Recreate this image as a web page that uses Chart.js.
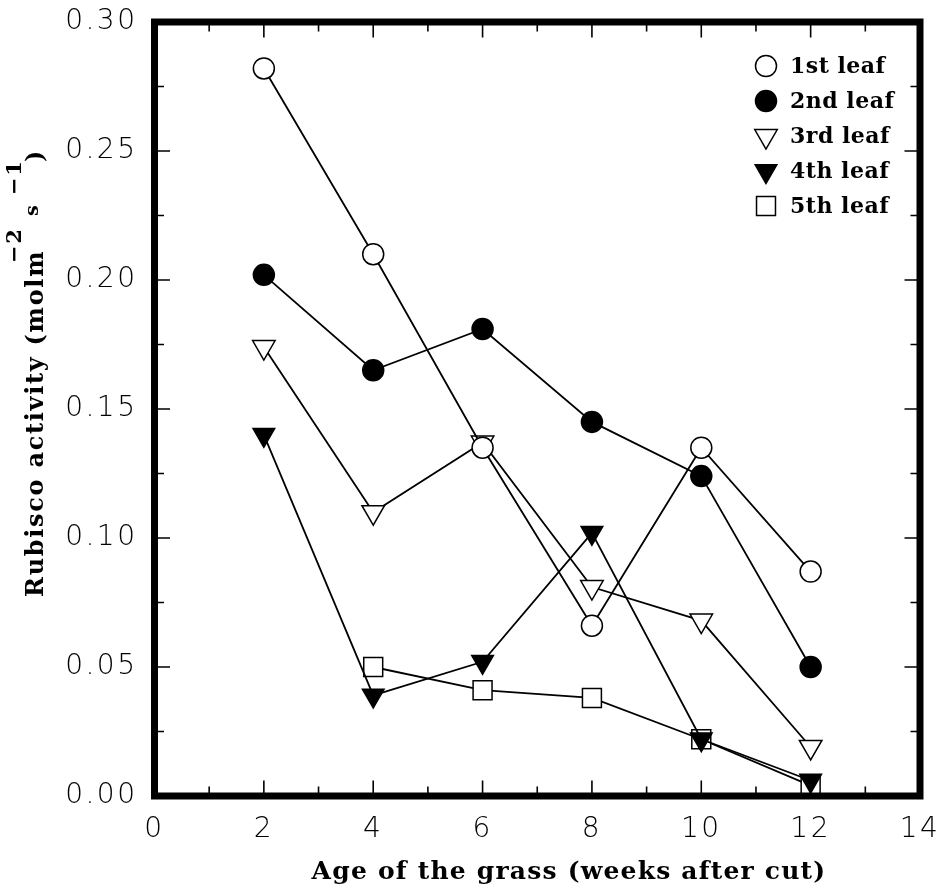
<!DOCTYPE html>
<html>
<head>
<meta charset="utf-8">
<title>Rubisco activity by leaf</title>
<script src="https://cdn.jsdelivr.net/npm/chart.js@4.4.1/dist/chart.umd.min.js"></script>
<style>
  html, body { margin: 0; padding: 0; background: #fff; }
  #wrap { width: 942px; height: 891px; }
</style>
</head>
<body>
<div id="wrap"><canvas id="chart" width="942" height="891"></canvas></div>
<script>
// weeks after cut
const weeks = [2, 4, 6, 8, 10, 12];

// Rubisco activity, mol m-2 s-1
const leaf1 = [0.282, 0.210, 0.135, 0.066, 0.135, 0.087];
const leaf2 = [0.202, 0.165, 0.181, 0.145, 0.124, 0.050];
const leaf3 = [0.174, 0.110, 0.137, 0.081, 0.068, 0.019];
const leaf4 = [0.140, 0.039, 0.052, 0.102, 0.022, 0.006];
const leaf5 = [null, 0.050, 0.041, 0.038, 0.022, 0.004];

const seriesNames = ['1st leaf', '2nd leaf', '3rd leaf', '4th leaf', '5th leaf'];
const seriesValues = [leaf1, leaf2, leaf3, leaf4, leaf5];

const X_MIN = 0, X_MAX = 14, X_STEP = 2;
const Y_MIN = 0, Y_MAX = 0.30, Y_STEP = 0.05;

const xTitle = 'Age of the grass (weeks after cut)';
// y title pieces: text, font size, raise above baseline, offset along the line
const yTitleParts = [
  { text: 'Rubisco activity (molm', size: 24, rise: 0, at: 0 },
  { text: '\u22122', size: 21, rise: 22, at: 334 },
  { text: 's', size: 19, rise: 5, at: 381 },
  { text: '\u22121', size: 21, rise: 22, at: 402 },
  { text: ')', size: 24, rise: 0, at: 435 },
];

// open / filled symbols, one per leaf
const MARKERS = [
  { pointStyle: 'circle',   fill: '#fff', radius: 10.5, rotation: 0 },
  { pointStyle: 'circle',   fill: '#000', radius: 10.5, rotation: 0 },
  { pointStyle: 'triangle', fill: '#fff', radius: 13,   rotation: 180 },
  { pointStyle: 'triangle', fill: '#000', radius: 12.5, rotation: 180 },
  { pointStyle: 'rect',     fill: '#fff', radius: 13.4, rotation: 0 },
];

const TICK_FONT = { family: '"DejaVu Sans", sans-serif', size: 28, weight: 200, lineHeight: 1.2 };
const TITLE_FAMILY = '"DejaVu Serif", serif';
const FRAME_WIDTH = 7;
const MAJOR_TICK = 15.5;
const MINOR_TICK = 9.5;

function toPoints(values) {
  return weeks.map((w, i) => ({ x: w, y: values[i] }));
}

const datasets = seriesValues.map((values, i) => {
  const m = MARKERS[i];
  return {
    label: seriesNames[i],
    data: toPoints(values),
    borderColor: '#000',
    borderWidth: 1.8,
    backgroundColor: m.fill,
    pointStyle: m.pointStyle,
    pointRotation: m.rotation,
    pointRadius: m.radius,
    pointHoverRadius: m.radius,
    pointBackgroundColor: m.fill,
    pointBorderColor: '#000',
    pointBorderWidth: 1.5,
    tension: 0,
    fill: false,
    clip: false,
  };
});

// wide tick digits
const spacedTicks = {
  id: 'spacedTicks',
  beforeDraw(chart) {
    chart.ctx.letterSpacing = '2.5px';
  }
};

// thick box, inward ticks, axis titles and the key
const frameAndLabels = {
  id: 'frameAndLabels',
  afterDraw(chart) {
    const { ctx, chartArea: a } = chart;
    const xs = chart.scales.x, ys = chart.scales.y;
    ctx.save();
    ctx.letterSpacing = '0px';
    ctx.strokeStyle = '#000';
    ctx.fillStyle = '#000';

    ctx.lineWidth = 1.6;
    ctx.beginPath();
    for (let v = X_MIN + 1; v < X_MAX; v++) {
      const px = xs.getPixelForValue(v);
      const len = v % X_STEP === 0 ? MAJOR_TICK : MINOR_TICK;
      ctx.moveTo(px, a.top); ctx.lineTo(px, a.top + len);
      ctx.moveTo(px, a.bottom); ctx.lineTo(px, a.bottom - len);
    }
    const half = Y_STEP / 2;
    const nY = Math.round((Y_MAX - Y_MIN) / half);
    for (let i = 1; i < nY; i++) {
      const py = ys.getPixelForValue(Y_MIN + i * half);
      const len = i % 2 === 0 ? MAJOR_TICK : MINOR_TICK;
      ctx.moveTo(a.left, py); ctx.lineTo(a.left + len, py);
      ctx.moveTo(a.right, py); ctx.lineTo(a.right - len, py);
    }
    ctx.stroke();

    ctx.lineWidth = FRAME_WIDTH;
    ctx.lineJoin = 'miter';
    ctx.strokeRect(a.left, a.top, a.right - a.left, a.bottom - a.top);

    // x title
    ctx.letterSpacing = '1.2px';
    ctx.font = `bold 25px ${TITLE_FAMILY}`;
    ctx.textAlign = 'center';
    ctx.textBaseline = 'alphabetic';
    ctx.fillText(xTitle, 569, 879);

    // y title with superscripts, reading upward
    ctx.letterSpacing = '1.7px';
    ctx.save();
    ctx.translate(43, 597);
    ctx.rotate(-Math.PI / 2);
    ctx.textAlign = 'left';
    yTitleParts.forEach(p => {
      ctx.font = `bold ${p.size}px ${TITLE_FAMILY}`;
      ctx.fillText(p.text, p.at, -p.rise);
    });
    ctx.restore();

    // key
    ctx.letterSpacing = '0.5px';
    const keyX = 766, textX = 790, keyTop = 66, keyStep = 35;
    ctx.textAlign = 'left';
    ctx.textBaseline = 'middle';
    seriesNames.forEach((name, i) => {
      const m = MARKERS[i];
      const y = keyTop + i * keyStep;
      ctx.fillStyle = m.fill;
      ctx.strokeStyle = '#000';
      ctx.lineWidth = 1.5;
      Chart.helpers.drawPoint(ctx, {
        pointStyle: m.pointStyle, rotation: m.rotation, radius: m.radius, borderWidth: 1.5
      }, keyX, y);
      ctx.fillStyle = '#000';
      ctx.font = `bold 22px ${TITLE_FAMILY}`;
      ctx.fillText(name, textX, y + 1);
    });
    ctx.restore();
  }
};

// fixed axis sizes so the plot box sits where it should
function fixAxis(size, key) {
  return s => {
    s[key] = size;
    s.paddingTop = 0; s.paddingBottom = 0;
    s.paddingLeft = 0; s.paddingRight = 0;
  };
}

new Chart(document.getElementById('chart'), {
  type: 'line',
  data: { datasets },
  options: {
    responsive: false,
    devicePixelRatio: 1,
    animation: false,
    layout: { padding: { top: 22, right: 22, left: 0, bottom: 0 } },
    plugins: {
      legend: { display: false },
      tooltip: { enabled: false },
      title: { display: false }
    },
    scales: {
      x: {
        type: 'linear',
        min: X_MIN,
        max: X_MAX,
        grid: { display: false, drawTicks: false },
        border: { display: false },
        ticks: {
          stepSize: X_STEP,
          autoSkip: false,
          maxRotation: 0,
          padding: 17,
          color: '#000',
          font: TICK_FONT,
          callback: v => String(v)
        },
        afterFit: fixAxis(95, 'height')
      },
      y: {
        type: 'linear',
        min: Y_MIN,
        max: Y_MAX,
        grid: { display: false, drawTicks: false },
        border: { display: false },
        ticks: {
          stepSize: Y_STEP,
          autoSkip: false,
          padding: 17,
          color: '#000',
          font: TICK_FONT,
          callback: v => Number(v).toFixed(2)
        },
        afterFit: fixAxis(154.5, 'width')
      }
    }
  },
  plugins: [spacedTicks, frameAndLabels]
});
</script>
</body>
</html>
